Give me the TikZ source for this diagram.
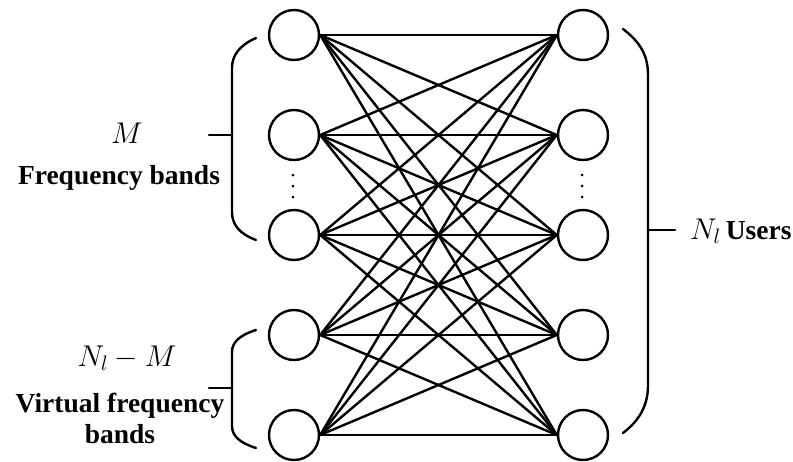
\documentclass[tikz,border=0pt]{standalone}
\usepackage{fix-cm}
\usepackage{fontspec}
\setmainfont{Liberation Serif}
\begin{document}
\begin{tikzpicture}[x=1pt,y=-1pt,
  unit/.style={circle,draw,line width=2.4pt,minimum size=50pt,inner sep=0pt},
  link/.style={line width=2.4pt},
  bracket/.style={line width=2.4pt,line cap=round},
  word/.style={font=\fontsize{27.5}{30}\selectfont\bfseries,inner sep=0pt},
  sym/.style={font=\fontsize{30}{32}\selectfont,inner sep=0pt},
  vdot/.style={circle,fill,inner sep=0pt,minimum size=3pt}]
\useasboundingbox (0,0) rectangle (793,461);

% two columns of five nodes
\foreach \i/\y in {1/35,2/135,3/235,4/335,5/435}{
  \node[unit] (l\i) at (294,\y) {};
  \node[unit] (r\i) at (583,\y) {};
}
% full bipartite connections
\foreach \i in {1,...,5}{
  \foreach \j in {1,...,5}{
    \draw[link] (l\i.east) -- (r\j.west);
  }
}
% vertical ellipses between rows 2 and 3
\foreach \k/\y in {a/175,b/186,c/197}{
  \node[vdot] (ld\k) at (293,\y) {};
  \node[vdot] (rd\k) at (582,\y) {};
}

% right bracket
\coordinate (rbtop) at (623,29);
\coordinate (rbbot) at (623,433);
\coordinate (rbmid) at (648,230);
\coordinate (rbtip) at (675,230);
\draw[bracket] (rbtop) .. controls (640,42) and (648,55) .. (648,75)
  -- (648,385) .. controls (648,405) and (640,420) .. (rbbot);
\draw[bracket] (rbmid) -- (rbtip);
\node[sym,anchor=west] (nl) at (690,231) {$N_l$};
\node[word,anchor=west] (users) at (nl.east) {\,Users};

% upper left bracket
\coordinate (ubtop) at (256,38);
\coordinate (ubbot) at (256,240);
\coordinate (ubmid) at (232,135);
\coordinate (ubtip) at (209,135);
\draw[bracket] (ubtop) .. controls (240,45) and (232,55) .. (232,68)
  -- (232,212) .. controls (232,225) and (240,234) .. (ubbot);
\draw[bracket] (ubmid) -- (ubtip);
\node[sym] (m) at (127,133) {$M$};
\node[word] (fb) at (119,178) {Frequency bands};

% lower left bracket
\coordinate (lbtop) at (256,330);
\coordinate (lbbot) at (256,448);
\coordinate (lbmid) at (232,388);
\coordinate (lbtip) at (209,388);
\draw[bracket] (lbtop) .. controls (240,335) and (232,342) .. (232,352)
  -- (232,426) .. controls (232,436) and (240,443) .. (lbbot);
\draw[bracket] (lbmid) -- (lbtip);
\node[sym] (nm) at (127,358) {$N_l - M$};
\node[word] (vf) at (120,406) {Virtual frequency};
\node[word] (vb) at (120,434) {bands};
\end{tikzpicture}
\end{document}
